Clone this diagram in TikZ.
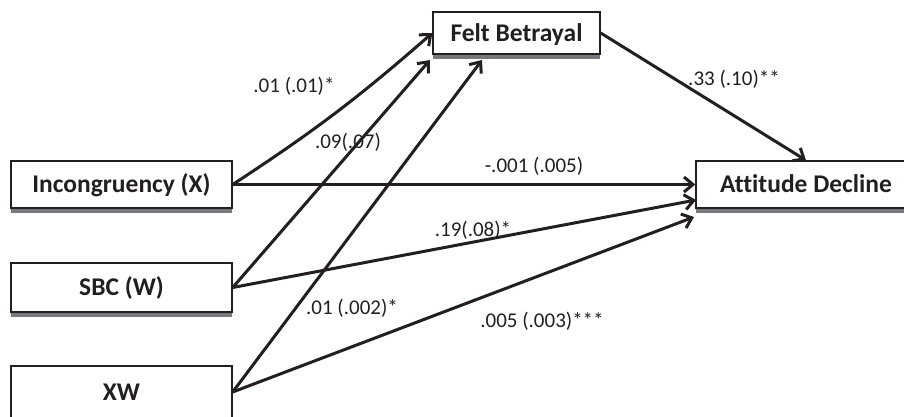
\documentclass[tikz,border=0pt]{standalone}
\usepackage{fontspec}
\setmainfont{Carlito}[Ligatures=NoCommon]
\usetikzlibrary{arrows.meta,shadows}
\definecolor{ink}{HTML}{231F20}
\definecolor{shade}{HTML}{77787B}

\begin{document}
\begin{tikzpicture}[x=1pt,y=-1pt,
    varbox/.style={draw=ink,line width=1.4pt,fill=white,minimum width=221pt,minimum height=47pt,
      inner sep=0pt,font=\fontsize{25.5}{30}\selectfont\bfseries,text=ink,text height=16pt,text depth=0pt,
      drop shadow={shadow xshift=0pt,shadow yshift=-5pt,fill=shade,opacity=1}},
    effect/.style={draw=ink,line width=3pt,-{Straight Barb[length=9pt,width=15pt]}},
    coef/.style={font=\fontsize{21}{25}\selectfont,text=ink,inner sep=0pt,anchor=base}]
    \useasboundingbox (0,0) rectangle (904,416);
    % variables
    \node[varbox] (inc) at (121.5,184.5) {Incongruency (X)};
    \node[varbox,minimum height=49pt] (sbc) at (121.5,287.5) {SBC (W)};
    \node[varbox,minimum height=52pt] (xw) at (121.5,392) {XW};
    \node[varbox,minimum width=167pt,minimum height=42pt] (felt) at (516.5,33) {Felt Betrayal};
    \node[varbox,minimum width=220pt] (att) at (806,184.5) {Attitude Decline};
    % arrow ends that miss the anchors
    \coordinate (felt-in1) at (430,60);
    \coordinate (felt-in2) at (482,60);
    \coordinate (att-in1) at (696,200);
    \coordinate (att-in2) at (694,217);
    % paths
    \draw[effect] (inc.east) to[bend right=4] (felt.west);
    \draw[effect] (inc.east) -- (att.west);
    \draw[effect] (sbc.east) -- (felt-in1);
    \draw[effect] (sbc.east) -- (att-in1);
    \draw[effect] (xw.east) -- (felt-in2);
    \draw[effect] (xw.east) -- (att-in2);
    \draw[effect] (felt.east) -- (att.north);
    % coefficients (se)
    \node[coef] (c-xm) at (294,92) {.01 (.01)*};
    \node[coef] (c-wm) at (348,148) {.09(.07)};
    \node[coef] (c-xy) at (534,172) {-.001 (.005)};
    \node[coef] (c-wy) at (473,236) {.19(.08)*};
    \node[coef] (c-xwm) at (352,314) {.01 (.002)*};
    \node[coef] (c-xwy) at (542,327) {.005 (.003)***};
    \node[coef] (c-my) at (734,85) {.33 (.10)**};
\end{tikzpicture}
\end{document}
